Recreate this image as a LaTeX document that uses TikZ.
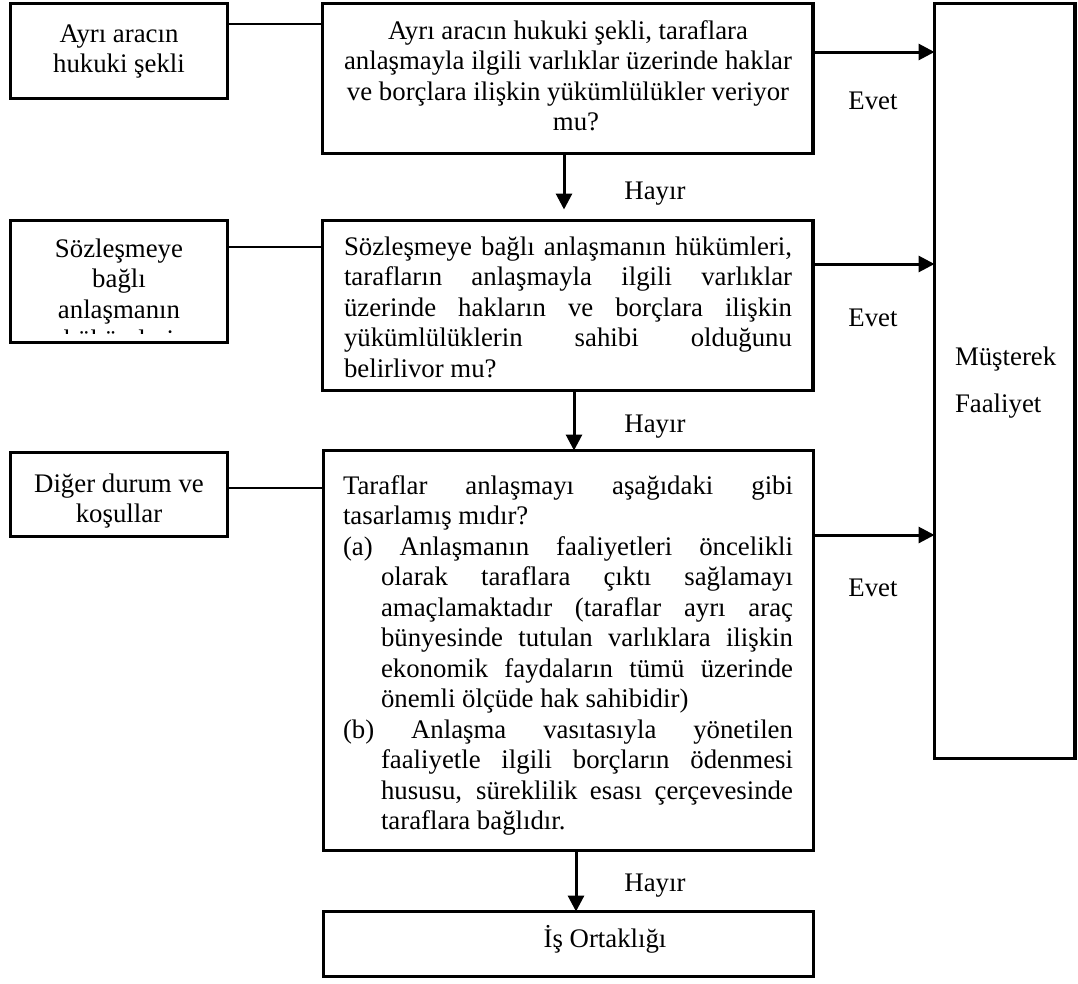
\documentclass[tikz,border=0pt]{standalone}
\usepackage{fontspec}
\setmainfont{Liberation Serif}
\usetikzlibrary{arrows.meta,calc}
\newcommand\fs{\fontsize{26.8pt}{30.5pt}\selectfont}
\newcommand\jl[2]{\makebox[#1][s]{#2}}
\begin{document}
\begin{tikzpicture}[x=1pt,y=-1pt,
 box/.style={draw=black, line width=3.3pt, anchor=north west, inner sep=0pt, outer sep=0pt},
 txt/.style={inner sep=0pt, outer sep=0pt, font=\fs},
 link/.style={line width=1.4pt},
 arr/.style={line width=3pt, -{Triangle[length=16pt,width=16pt]}},
 ]
\useasboundingbox[fill=white] (0,0) rectangle (1078,983);

% boxes
\node[box, minimum width=217pt, minimum height=95pt] (lb1) at (10.5,3.5) {};
\node[box, minimum width=490.5pt, minimum height=150pt] (mb1) at (322.5,3.5) {};
\node[box, minimum width=140.5pt, minimum height=755pt] (mus) at (934.5,3.5) {};
\node[box, minimum width=217pt, minimum height=122pt] (lb2) at (10.5,220.5) {};
\node[box, minimum width=490.5pt, minimum height=170pt] (mb2) at (322.5,220.5) {};
\node[box, minimum width=217pt, minimum height=84pt] (lb3) at (10.5,452.5) {};
\node[box, minimum width=490pt, minimum height=400pt] (mb3) at (323.5,450.5) {};
\node[box, minimum width=490pt, minimum height=65pt] (iso) at (323.5,911.5) {};

% texts
\node[txt, anchor=base] (tl1) at (119,42) {\parbox[t]{217pt}{\centering\fs Ayrı aracın\\hukuki şekli}};
\begin{scope}
\clip (12,222) rectangle (226,333);
\node[txt, anchor=base] (tl2) at (119,257) {\parbox[t]{217pt}{\centering\fs Sözleşmeye\\bağlı\\anlaşmanın\\hükümleri}};
\end{scope}
\node[txt, anchor=base] (tl3) at (119,492) {\parbox[t]{217pt}{\centering\fs Diğer durum ve\\koşullar}};

\node[txt, anchor=base] (tm1) at (568,39) {\parbox[t]{480pt}{\centering\fs
Ayrı aracın hukuki şekli, taraflara\\
anlaşmayla ilgili varlıklar üzerinde haklar\\
ve borçlara ilişkin yükümlülükler veriyor\\
\hspace*{16pt}mu?}};

\node[txt, anchor=base west] (tm2) at (344,255) {\parbox[t]{448pt}{\fs
\jl{448pt}{Sözleşmeye bağlı anlaşmanın hükümleri,}\\
\jl{448pt}{tarafların anlaşmayla ilgili varlıklar}\\
\jl{448pt}{üzerinde hakların ve borçlara ilişkin}\\
\jl{448pt}{yükümlülüklerin sahibi olduğunu}\\
belirlivor mu?}};

\node[txt, anchor=base west] (tm3) at (343,494) {\parbox[t]{450pt}{\fs
\jl{450pt}{Taraflar anlaşmayı aşağıdaki gibi}\\
tasarlamış mıdır?\\
\jl{450pt}{(a) Anlaşmanın faaliyetleri öncelikli}\\
\hspace*{38pt}\jl{412pt}{olarak taraflara çıktı sağlamayı}\\
\hspace*{38pt}\jl{412pt}{amaçlamaktadır (taraflar ayrı araç}\\
\hspace*{38pt}\jl{412pt}{bünyesinde tutulan varlıklara ilişkin}\\
\hspace*{38pt}\jl{412pt}{ekonomik faydaların tümü üzerinde}\\
\hspace*{38pt}önemli ölçüde hak sahibidir)\\
\jl{450pt}{(b) Anlaşma vasıtasıyla yönetilen}\\
\hspace*{38pt}\jl{412pt}{faaliyetle ilgili borçların ödenmesi}\\
\hspace*{38pt}\jl{412pt}{hususu, süreklilik esası çerçevesinde}\\
\hspace*{38pt}taraflara bağlıdır.}};

\node[txt, anchor=base west] (tmus1) at (955,365) {Müşterek};
\node[txt, anchor=base west] (tmus2) at (955,412) {Faaliyet};
\node[txt, anchor=base] (tiso) at (605,947) {İş Ortaklığı};

% labels
\node[txt, anchor=base] (e1) at (873,109) {Evet};
\node[txt, anchor=base] (e2) at (873,326) {Evet};
\node[txt, anchor=base] (e3) at (873,596) {Evet};
\node[txt, anchor=base] (h1) at (655,199) {Hayır};
\node[txt, anchor=base] (h2) at (655,432) {Hayır};
\node[txt, anchor=base] (h3) at (655,891) {Hayır};

% helper coordinates
\coordinate (ya) at (0,24);
\coordinate (yb) at (0,247);
\coordinate (yc) at (0,488);
\coordinate (ra) at (0,52);
\coordinate (rb) at (0,264);
\coordinate (rc) at (0,535);
\coordinate (da) at (564,0);
\coordinate (db) at (574,0);
\coordinate (dc) at (576,0);

% connectors
\draw[link] (lb1.east |- ya) -- (mb1.west |- ya);
\draw[link] (lb2.east |- yb) -- (mb2.west |- yb);
\draw[link] (lb3.east |- yc) -- (mb3.west |- yc);

\draw[arr] (mb1.east |- ra) -- (mus.west |- ra);
\draw[arr] (mb2.east |- rb) -- (mus.west |- rb);
\draw[arr] (mb3.east |- rc) -- (mus.west |- rc);

\draw[arr, shorten >=11pt] (mb1.south -| da) -- (mb2.north -| da);
\draw[arr] (mb2.south -| db) -- (mb3.north -| db);
\draw[arr] (mb3.south -| dc) -- (iso.north -| dc);
\end{tikzpicture}
\end{document}
